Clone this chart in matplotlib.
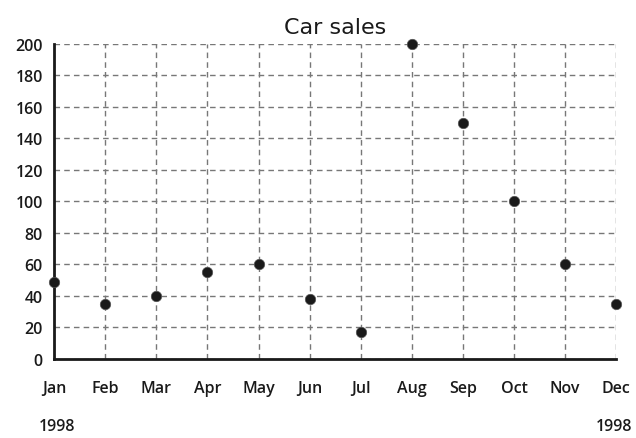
import matplotlib.pyplot as plt

months = ['Jan', 'Feb', 'Mar', 'Apr', 'May', 'Jun', 'Jul', 'Aug', 'Sep', 'Oct', 'Nov', 'Dec']
sales = [49, 35, 40, 55, 60, 38, 17, 200, 150, 100, 60, 35]
yticks = [0, 20, 40, 60, 80, 100, 120, 140, 160, 180, 200]

fig = plt.figure(figsize=(6.36, 4.39), dpi=100)
ax = fig.add_axes([0.085, 0.18, 0.884, 0.718])

x = list(range(len(months)))
ax.plot(x, sales, 'o', color='#1a1a1a', markersize=7.5, markeredgecolor='#555555',
        markeredgewidth=0.5, clip_on=False, zorder=5)

ax.set_xlim(0, 11)
ax.set_ylim(0, 200)
ax.set_xticks(x)
ax.set_xticklabels(months)
ax.set_yticks(yticks)
ax.grid(True, color='#777777', linestyle=(0, (4, 3)), linewidth=1)
ax.set_axisbelow(True)

for s in ['top', 'right']:
    ax.spines[s].set_visible(False)
for s in ['left', 'bottom']:
    ax.spines[s].set_linewidth(2)
    ax.spines[s].set_color('#1a1a1a')

ax.tick_params(axis='both', length=0, labelsize=11.5, colors='#1a1a1a')
ax.tick_params(axis='x', pad=15)
ax.tick_params(axis='y', pad=8)
for lab in ax.get_xticklabels() + ax.get_yticklabels():
    lab.set_fontfamily('Open Sans')
    lab.set_fontweight('semibold')

ax.set_title('Car sales', fontsize=16, fontfamily='DejaVu Sans', fontweight='medium',
             color='#1a1a1a', pad=8)

# year labels under the first and last month
fig.text(0.09, 0.027, '1998', ha='center', va='center', fontsize=11.5,
         fontfamily='Open Sans', fontweight='semibold', color='#1a1a1a')
fig.text(0.965, 0.027, '1998', ha='center', va='center', fontsize=11.5,
         fontfamily='Open Sans', fontweight='semibold', color='#1a1a1a')

fig.savefig('out.png', dpi=100)
